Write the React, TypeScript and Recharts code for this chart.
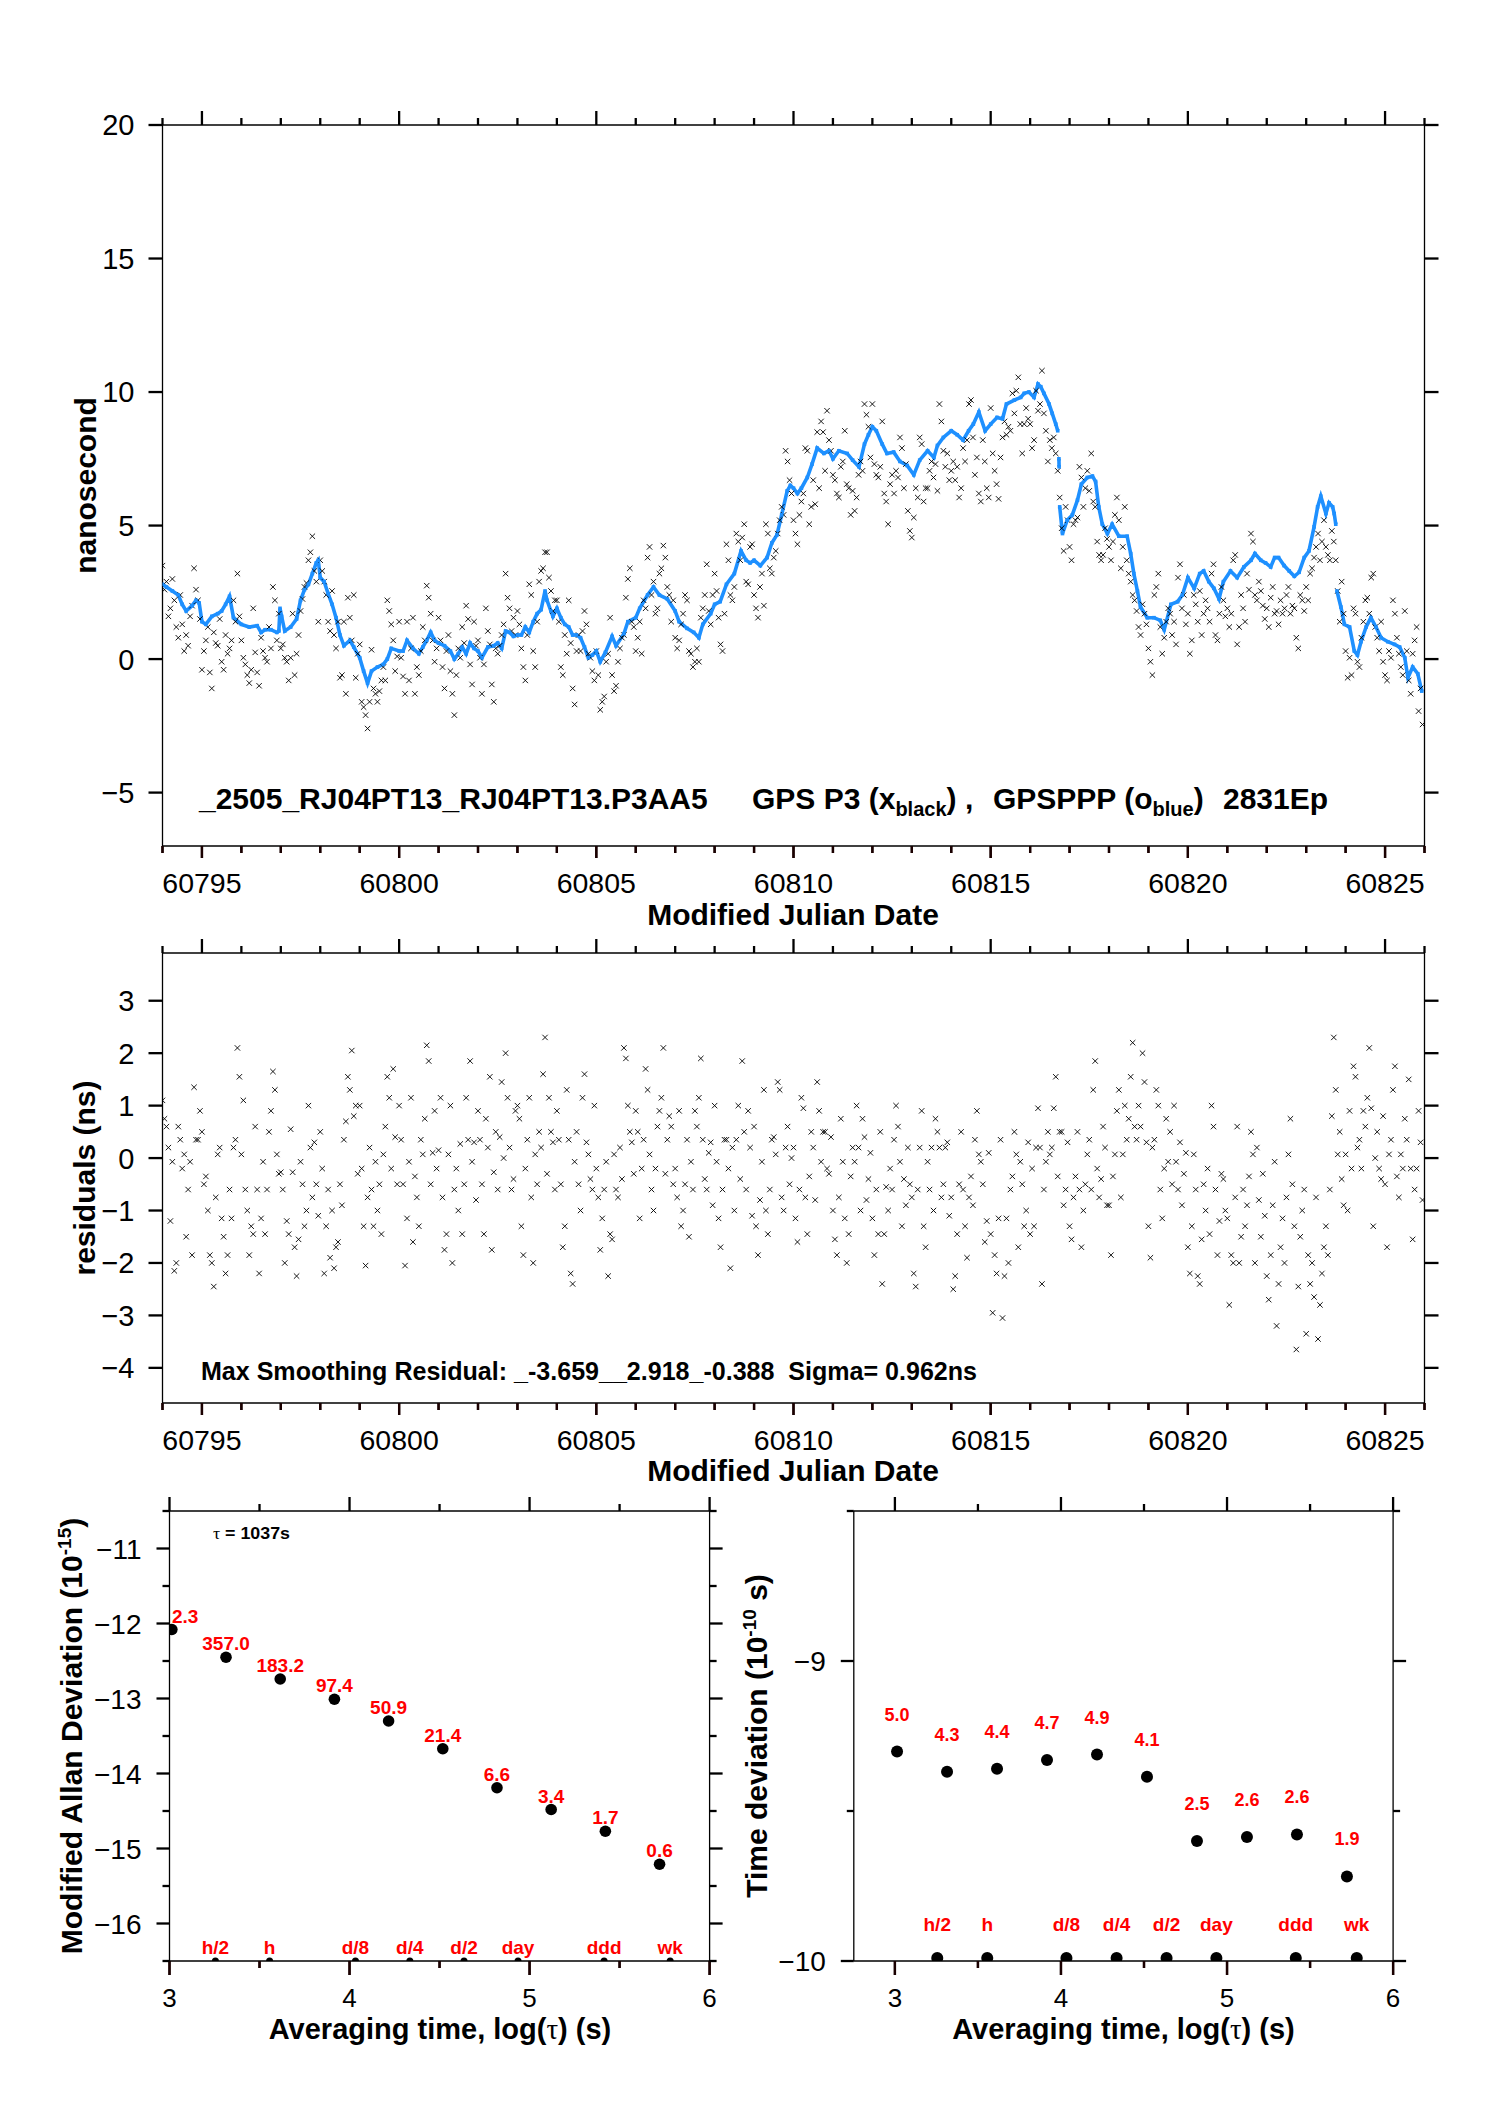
import React from 'react';
import { ComposedChart, Scatter, Line, XAxis, YAxis, ReferenceLine } from 'recharts';

const FONT = '"Liberation Sans", Arial, Helvetica, sans-serif';
const BLUE = '#1E90FF';
const RED = '#FF0000';
const INK = '#1a0000';

// ---------------- Top panel: GPS P3 (black x), epochs every 0.1 d, two interleaved sets ----------------
const EPOCH0 = 60794.0;
const STEP = 0.1;
const p3A: number[] = [
  3.5, 2.9, 1.9, 2.2, 0.8, 1.3, 0.9, 1.6, 3.4, 2.2,
  -0.4, 0.7, -0.5, 1.0, 0.5, -0.1, 0.9, 0.4, 2.2, 3.2,
  0.7, -0.2, -0.9, 1.9, -0.5, 0.8, 0.05, 1.2, 2.7, 0.7,
  0.4, 0.05, -0.8, 1.7, 0.2, 1.8, 2.7, 3.7, 4.6, 2.9,
  3.7, 2.9, 1.4, 2.55, 0.4, -0.7, 1.4, 2.3, 0.7, -0.7,
  0.55, -1.8, -2.6, 0.35, -1.3, -1.2, -0.3, 2.2, 1.3, -0.45,
  1.4, -0.65, 1.4, 0.4, -1.3, -0.6, 1.2, 2.75, 1.7, -0.1,
  1.55, -0.3, 0.3, -0.45, -2.1, 0.4, 1.2, 2.0, -0.2, 1.4,
  0.7, -1.3, 1.9, 0.55, -1.6, 0.2, 0.9, 3.2, 1.9, 1.55,
  1.8, 0.4, -0.8, 2.8, 0.3, 1.4, 3.3, 4.0, 3.05, 1.8,
  2.2, -0.3, 0.9, 2.2, -1.1, 0.3, 0.3, 1.8, 0.2, -0.45,
  0.3, -1.9, -1.4, 0.2, -0.6, -1.0, 0.4, 0.9, 3.0, 1.4,
  0.3, 1.4, 2.2, 3.8, 2.4, 1.7, 3.2, 4.25, 2.7, 1.4,
  0.8, 0.7, 1.7, 2.2, 0.2, -0.1, -0.1, 1.9, 3.55, 1.3,
  3.2, 1.55, 0.3, 4.3, 2.4, 2.7, 4.4, 4.55, 2.9, 4.2,
  2.4, 1.55, 3.2, 5.05, 3.4, 3.8, 4.7, 5.7, 7.8, 6.7,
  5.2, 4.3, 5.9, 7.9, 5.05, 6.7, 8.5, 8.9, 7.05, 8.2,
  6.9, 6.2, 7.2, 8.55, 6.4, 6.3, 6.05, 7.4, 9.55, 8.7,
  9.55, 6.9, 7.2, 6.2, 5.05, 6.9, 7.05, 8.3, 6.4, 5.55,
  4.55, 6.4, 8.3, 5.9, 6.4, 7.4, 7.3, 9.55, 7.8, 7.7,
  7.05, 6.7, 6.05, 7.9, 8.2, 9.7, 6.9, 6.2, 8.2, 6.4,
  9.4, 7.05, 6.0, 8.3, 8.4, 8.55, 9.2, 10.55, 7.7, 9.4,
  8.8, 8.2, 9.3, 10.8, 8.55, 8.2, 8.3, 7.05, 4.9, 5.7,
  4.2, 5.05, 5.3, 6.8, 6.4, 6.3, 5.9, 4.4, 3.7, 4.9,
  4.2, 4.4, 6.05, 3.4, 5.7, 3.2, 2.4, 1.8, 0.9, 1.7,
  0.4, -0.6, 2.7, 1.2, 0.8, 1.9, 0.9, 0.55, 3.55, 2.4,
  1.7, 0.7, 2.05, 2.55, 1.7, 1.9, 3.2, 0.9, 1.7, 2.2,
  1.9, 1.7, 3.9, 1.2, 1.9, 3.2, 4.7, 2.4, 2.9, 2.0,
  1.9, 2.3, 1.7, 1.3, 1.7, 2.4, 1.7, 1.9, 0.4, 2.2,
  2.7, 3.2, 3.8, 4.7, 4.4, 4.2, 3.7, 4.4, 2.55, 2.9,
  0.3, 0.05, 1.9, -0.1, 0.8, 2.2, 1.7, 3.2, 0.8, 1.4,
  -0.6, 0.3, 2.2, 0.8, -0.3, 1.8, -0.8, 0.2, 1.2, -1.1,
];
const p3B: number[] = [
  2.6, 1.6, 3.0, 1.2, 2.4, 0.3, 0.5, 2.0, 2.6, 1.5,
  0.3, 1.2, -1.1, 0.6, 1.5, -0.4, 0.2, 0.7, 1.4, 1.6,
  0.05, -0.6, -0.4, 0.25, -1.0, 0.3, -0.1, 0.4, 2.2, 1.7,
  0.55, -0.1, 0.05, -0.6, 0.9, 2.25, 2.85, 4.0, 3.3, 1.4,
  3.3, 2.4, 1.05, 0.9, 1.4, -0.6, -1.3, 1.55, 2.4, 0.2,
  -1.6, -2.1, -1.6, -1.1, -1.6, -0.8, -0.8, 1.8, 0.7, 0.1,
  0.05, -1.3, -0.8, 1.55, -0.3, 0.3, 0.7, 2.3, 0.7, 0.4,
  0.7, -1.1, 0.9, -1.3, -0.6, 0.05, 0.6, 1.5, -0.95, 0.5,
  0.05, -0.2, 1.05, -0.95, 0.4, 0.5, 1.3, 2.3, 1.05, 0.9,
  1.3, -0.3, 0.9, 2.4, -0.3, 2.9, 3.4, 4.0, 2.55, 2.2,
  1.4, -0.6, 0.2, 0.6, -1.7, 0.9, 1.05, 1.3, 0.05, -0.8,
  -0.6, -1.6, -0.1, 1.55, -1.2, -0.1, 0.8, 2.3, 3.4, 1.2,
  0.8, 0.2, 1.9, 4.2, 2.9, 1.9, 3.4, 3.8, 2.4, 2.2,
  0.4, 1.3, 2.4, 0.3, -0.3, 0.4, 1.55, 2.4, 1.8, 2.4,
  2.55, 0.55, 1.7, 3.7, 2.2, 4.7, 3.7, 5.05, 2.8, 4.3,
  1.9, 2.7, 2.0, 4.7, 3.2, 4.05, 5.2, 5.4, 7.4, 6.2,
  4.7, 5.4, 6.2, 7.8, 5.7, 5.8, 6.4, 8.5, 9.3, 7.8,
  6.7, 6.05, 7.4, 6.55, 5.4, 5.55, 6.9, 7.05, 9.15, 7.55,
  7.3, 6.8, 8.9, 5.9, 6.55, 6.2, 6.8, 7.9, 7.3, 4.8,
  5.3, 6.05, 8.05, 6.4, 7.05, 6.8, 6.3, 8.9, 7.2, 6.7,
  7.4, 7.2, 6.4, 7.4, 9.55, 8.3, 7.55, 5.9, 7.4, 6.05,
  7.7, 6.55, 7.55, 8.9, 8.7, 9.95, 10.05, 8.8, 8.8, 9.0,
  7.9, 10.05, 9.55, 9.2, 7.4, 7.9, 7.7, 6.05, 4.05, 5.2,
  3.7, 5.2, 7.2, 5.7, 7.05, 7.7, 5.7, 3.9, 3.9, 4.5,
  3.7, 5.4, 5.2, 4.2, 3.7, 2.9, 2.2, 1.2, 2.05, 1.3,
  -0.1, 2.4, 3.2, 0.2, 1.4, 1.7, 1.4, 3.05, 1.9, 1.3,
  0.2, 2.4, 1.4, 0.9, 2.2, 1.4, 3.55, 0.7, 2.7, 1.6,
  1.2, 3.7, 0.55, 2.4, 1.4, 2.6, 4.4, 2.2, 2.55, 1.5,
  1.2, 2.7, 1.8, 2.2, 1.9, 2.7, 2.0, 0.8, 2.4, 1.8,
  2.2, 3.4, 4.2, 3.7, 5.2, 3.9, 4.8, 3.7, 1.4, 1.7,
  -0.7, -0.6, 1.7, -0.3, 1.4, 2.3, 3.05, 1.2, 0.3, -0.1,
  -0.8, 0.05, 1.7, 0.2, -0.6, 0.3, -1.3, 0.7, -1.95, -2.45,
];

// GPSPPP (blue) : [MJD, ns]; null breaks the trace
const pppTrace: [number, number | null][] = [
  [60794.0, 2.8], [60794.1, 2.7], [60794.25, 2.55], [60794.4, 2.4], [60794.5, 2.05], [60794.6, 1.8],
  [60794.75, 2.0], [60794.85, 2.2], [60794.93, 2.1], [60795.0, 1.4], [60795.1, 1.3], [60795.25, 1.6],
  [60795.4, 1.7], [60795.5, 1.8], [60795.6, 2.05], [60795.7, 2.35], [60795.8, 1.55], [60796.0, 1.3],
  [60796.2, 1.2], [60796.4, 1.25], [60796.5, 1.0], [60796.6, 1.1], [60796.75, 1.1], [60796.9, 1.0],
  [60796.95, 1.05], [60796.98, 1.9], [60797.02, 1.6], [60797.1, 1.05], [60797.25, 1.2], [60797.4, 1.5],
  [60797.5, 2.2], [60797.6, 2.6], [60797.7, 2.8], [60797.8, 3.2], [60797.9, 3.6], [60797.95, 3.7],
  [60798.0, 3.05], [60798.1, 2.9], [60798.2, 2.45], [60798.3, 2.05], [60798.4, 1.55], [60798.5, 0.9],
  [60798.6, 0.5], [60798.75, 0.7], [60798.85, 0.45], [60799.0, 0.05], [60799.1, -0.45], [60799.2, -0.9],
  [60799.3, -0.45], [60799.45, -0.3], [60799.6, -0.2], [60799.7, 0.0], [60799.8, 0.4], [60800.0, 0.3],
  [60800.1, 0.3], [60800.2, 0.7], [60800.35, 0.4], [60800.5, 0.2], [60800.6, 0.45], [60800.7, 0.7],
  [60800.8, 1.0], [60800.9, 0.7], [60801.0, 0.6], [60801.15, 0.5], [60801.3, 0.3], [60801.4, 0.0],
  [60801.5, 0.2], [60801.6, 0.45], [60801.7, 0.2], [60801.8, 0.6], [60801.9, 0.4], [60802.0, 0.3],
  [60802.1, 0.05], [60802.25, 0.45], [60802.4, 0.5], [60802.5, 0.6], [60802.6, 0.4], [60802.7, 1.05],
  [60802.8, 1.0], [60802.9, 0.85], [60803.0, 0.9], [60803.1, 0.9], [60803.2, 1.2], [60803.3, 1.0],
  [60803.4, 1.4], [60803.5, 1.7], [60803.6, 1.85], [60803.7, 2.55], [60803.75, 2.2], [60803.85, 1.8],
  [60803.9, 1.6], [60804.0, 1.9], [60804.1, 1.55], [60804.2, 1.3], [60804.3, 1.2], [60804.4, 0.9],
  [60804.5, 0.9], [60804.6, 0.8], [60804.7, 0.45], [60804.8, 0.05], [60804.9, 0.15], [60805.0, 0.3],
  [60805.1, -0.1], [60805.23, 0.25], [60805.4, 0.85], [60805.5, 0.5], [60805.7, 0.95], [60805.8, 1.4],
  [60806.0, 1.55], [60806.1, 1.9], [60806.3, 2.4], [60806.45, 2.7], [60806.6, 2.4], [60806.8, 2.25],
  [60807.0, 1.8], [60807.1, 1.4], [60807.3, 1.15], [60807.47, 1.0], [60807.6, 0.8], [60807.7, 1.3],
  [60807.9, 1.7], [60808.0, 2.05], [60808.14, 2.15], [60808.3, 2.8], [60808.5, 3.2], [60808.67, 4.05],
  [60808.8, 3.7], [60808.9, 3.6], [60809.0, 3.7], [60809.16, 3.5], [60809.33, 3.8], [60809.45, 4.35],
  [60809.58, 4.65], [60809.7, 5.4], [60809.84, 6.3], [60809.92, 6.5], [60810.0, 6.4], [60810.1, 6.2],
  [60810.2, 6.4], [60810.35, 6.8], [60810.47, 7.3], [60810.6, 7.9], [60810.77, 7.7], [60810.9, 7.8],
  [60811.0, 7.5], [60811.15, 7.8], [60811.36, 7.7], [60811.5, 7.45], [60811.66, 7.2], [60811.8, 8.05],
  [60811.9, 8.4], [60812.0, 8.7], [60812.1, 8.55], [60812.25, 8.05], [60812.37, 7.7], [60812.54, 7.75],
  [60812.7, 7.4], [60812.88, 7.25], [60813.05, 6.9], [60813.2, 7.45], [60813.4, 7.8], [60813.56, 7.55],
  [60813.65, 8.0], [60813.8, 8.3], [60814.0, 8.55], [60814.15, 8.4], [60814.3, 8.2], [60814.44, 8.55],
  [60814.56, 8.8], [60814.7, 9.25], [60814.86, 8.55], [60815.0, 8.8], [60815.16, 9.05], [60815.3, 9.0],
  [60815.4, 9.55], [60815.6, 9.7], [60815.76, 9.8], [60815.85, 9.95], [60815.97, 10.0], [60816.1, 9.8],
  [60816.2, 10.3], [60816.27, 10.2], [60816.35, 9.95], [60816.48, 9.55], [60816.56, 9.2], [60816.65, 8.8],
  [60816.7, 8.55], [60816.71, null], [60816.73, 7.5], [60816.735, 7.2], [60816.74, null], [60816.75, 5.7],
  [60816.82, 4.7], [60816.94, 5.2], [60817.07, 5.4], [60817.2, 5.95], [60817.3, 6.55], [60817.45, 6.8],
  [60817.58, 6.85], [60817.66, 6.65], [60817.74, 5.7], [60817.83, 5.05], [60817.96, 4.7], [60818.08, 5.05],
  [60818.25, 4.6], [60818.46, 4.6], [60818.55, 3.95], [60818.63, 3.2], [60818.72, 2.55], [60818.8, 1.95],
  [60818.97, 1.55], [60819.14, 1.55], [60819.3, 1.45], [60819.4, 1.1], [60819.57, 2.05], [60819.74, 2.15],
  [60819.86, 2.4], [60820.0, 3.05], [60820.16, 2.65], [60820.3, 3.2], [60820.4, 3.3], [60820.53, 2.9],
  [60820.66, 2.65], [60820.79, 2.25], [60820.9, 2.9], [60821.08, 3.3], [60821.25, 3.05], [60821.42, 3.45],
  [60821.6, 3.7], [60821.7, 3.95], [60821.85, 3.7], [60821.97, 3.6], [60822.1, 3.45], [60822.2, 3.8],
  [60822.3, 3.8], [60822.44, 3.5], [60822.57, 3.3], [60822.7, 3.1], [60822.82, 3.25], [60822.95, 3.8],
  [60823.07, 4.05], [60823.2, 4.95], [60823.29, 5.7], [60823.37, 6.1], [60823.5, 5.45], [60823.58, 5.85],
  [60823.67, 5.7], [60823.71, 5.45], [60823.75, 5.05], [60823.765, null], [60823.78, 2.55], [60823.88, 1.95],
  [60823.97, 1.3], [60824.1, 1.2], [60824.22, 0.3], [60824.3, 0.15], [60824.39, 0.65], [60824.52, 1.2],
  [60824.64, 1.55], [60824.77, 1.2], [60824.9, 0.8], [60825.07, 0.65], [60825.24, 0.55], [60825.37, 0.45],
  [60825.5, 0.05], [60825.58, -0.7], [60825.7, -0.3], [60825.83, -0.55], [60825.93, -1.2],
];

// ---------------- Residuals (ns), same epoch grid ----------------
const resA: number[] = [
  1.1, 0.6, -1.2, -2.15, 0.6, -0.2, -1.5, -0.07, 1.35, 0.35,
  0.5, -0.35, -1.85, -2.45, 0.07, -1.15, -2.2, -0.6, 0.2, 2.1,
  0.07, -0.6, -1.85, -1.45, -0.6, -1.15, -1.45, 0.5, 1.65, 0.07,
  -0.27, -2.0, -1.45, -0.27, -2.25, -0.07, -1.3, 1.0, -0.75, -0.5,
  0.5, -2.2, -0.6, -1.0, -1.7, -0.5, 0.35, 1.55, 2.05, 1.0,
  1.0, -1.3, -0.75, -0.6, -0.07, -0.5, 0.07, 1.55, -0.2, 0.4,
  1.0, -0.5, -1.15, 1.15, -0.35, -1.3, 0.07, 2.15, -0.5, 0.9,
  0.15, -0.75, -1.45, 1.0, -0.6, -1.0, -1.45, 1.15, 1.85, 0.3,
  0.9, -0.5, 0.75, 1.55, -0.27, -0.6, 1.45, 2.0, 0.2, -0.4,
  1.0, -1.3, -0.2, 1.15, -2.0, -0.5, 0.2, 2.3, 1.15, 0.3,
  0.9, -0.5, -1.3, 0.35, -2.4, 0.5, -1.0, 1.6, 0.07, -0.6,
  -0.2, -1.75, -0.6, -2.25, -1.55, -0.6, 0.2, 2.1, 1.0, 0.3,
  0.9, -1.15, 0.35, 1.3, -0.6, -0.2, 0.9, 2.1, 0.35, 0.6,
  -0.2, 0.9, -1.0, 0.35, -0.07, 0.9, 1.15, 0.35, -0.6, 0.3,
  1.0, -1.15, -0.6, 0.35, -2.1, -1.0, 1.0, 1.85, -0.6, 0.2,
  0.6, -1.85, -0.07, -1.0, -0.6, 0.4, 1.45, -0.75, 0.2, -0.5,
  0.2, -1.6, 1.15, -0.75, -0.35, 0.2, 1.45, -0.07, 0.5, -0.3,
  -1.0, -1.85, 0.75, -1.15, -1.45, 0.2, 1.0, -1.0, 0.4, -0.4,
  -1.15, -0.6, 0.5, -1.45, -1.0, -0.6, 1.0, -0.07, -0.4, 0.2,
  -0.75, -2.45, 0.2, -1.3, -0.07, 0.2, 0.75, 0.2, -0.5, 0.3,
  -0.75, -2.25, -0.5, -0.6, -1.9, -0.35, 0.35, 0.07, -0.5, -1.2,
  -1.45, -1.85, -1.15, -3.05, -1.15, -0.6, 0.5, -1.7, -0.5, -1.0,
  -1.45, -1.3, 0.95, -2.4, -0.07, 0.07, 0.95, -0.35, 0.5, -0.6,
  -1.3, -0.75, 0.5, -1.7, -0.5, 0.35, 1.3, -0.2, -0.4, 0.2,
  -0.9, -0.35, 0.9, -0.75, 1.0, 0.75, 2.2, 0.35, 0.6, 1.45,
  -1.3, 0.2, 1.3, -0.6, -0.2, -0.07, -0.5, -0.07, 0.3, -0.3,
  -1.7, -1.3, -0.6, -2.4, -0.5, -0.2, 1.0, -0.6, -1.2, -0.4,
  -1.15, -1.85, -0.75, -2.0, -0.6, -0.9, 0.5, -2.0, -0.8, -0.3,
  -2.25, -1.85, -0.07, -2.4, -1.15, -0.75, 0.75, -1.3, -2.45, -1.0,
  -3.35, -2.4, -2.65, -3.45, -2.2, -1.3, -0.6, 2.3, 0.07, -0.4,
  0.07, 0.9, 1.75, 0.2, -0.2, 0.6, 2.1, -1.3, 0.5, -0.4,
  -0.5, 0.07, 1.3, -0.35, 0.07, 0.75, 1.5, -1.55, -0.2, 0.3,
];
const resB: number[] = [
  0.75, 0.2, -0.07, -2.0, 0.35, 0.07, -0.6, -1.85, 0.35, 0.9,
  -0.5, -1.0, -2.0, -0.75, 0.2, -1.5, -1.85, -1.15, 0.35, 1.55,
  1.1, -1.0, -1.3, 0.6, -2.2, -0.07, -0.6, 0.9, 1.3, -0.3,
  -0.6, -1.2, 0.55, -1.7, -1.55, -0.5, -1.0, 0.2, 0.3, -1.1,
  -0.2, -1.3, -1.9, -2.1, -1.6, -0.9, 0.7, 1.3, 0.8, -0.3,
  -0.2, -2.05, 0.2, -1.3, -1.0, -1.45, 0.6, 1.15, 1.7, -0.5,
  0.35, -2.05, -0.07, -1.6, -0.75, 0.35, 0.75, 1.85, 0.1, -0.2,
  1.15, -1.75, 0.07, -2.0, -0.2, 0.27, -0.5, 0.35, -0.07, -0.8,
  0.35, -1.45, 0.2, -1.75, 0.5, 0.4, 0.0, 1.15, -0.6, 0.9,
  0.75, -1.85, 0.35, -0.75, 0.07, 0.5, 1.6, -0.3, 0.5, -0.6,
  0.35, -1.7, 1.3, -2.2, -0.07, -0.5, 1.15, 0.3, -0.4, 1.0,
  -0.75, -1.15, -0.07, -1.45, 0.07, -0.75, -0.4, 1.9, 0.5, -0.3,
  0.5, -0.2, 1.7, 0.07, -1.0, 0.6, 1.15, -0.3, 0.8, -0.5,
  -0.75, -1.3, -0.5, -1.5, -0.6, 0.6, 1.9, -0.4, 0.1, -0.9,
  -0.07, -1.7, 0.35, -0.2, 0.2, 0.35, -0.4, 0.5, 0.9, -1.1,
  -1.3, -0.8, 1.3, -1.45, 0.35, 0.07, 1.3, -1.0, 0.6, 0.0,
  -1.15, -0.6, 0.95, -1.45, 0.5, -0.8, 0.9, 0.5, -0.2, 0.4,
  -1.55, -0.75, -0.07, -2.0, -0.35, -0.07, 0.2, 0.75, -0.8, 0.1,
  -1.85, -1.45, -2.4, -0.55, -0.2, 0.35, 0.6, -1.3, -0.9, -0.5,
  -2.2, -0.6, 0.9, -1.7, -0.6, -1.0, 0.5, -0.75, 0.2, -1.1,
  -2.5, -1.45, 0.5, -1.3, -0.75, -0.9, 0.9, -0.07, -1.6, 0.1,
  -2.95, -2.2, 0.35, -2.25, -2.0, -0.35, 0.07, -0.07, -1.3, 0.3,
  -0.2, 0.2, 0.2, -0.6, 0.5, 0.2, 1.55, 0.5, -0.9, 0.3,
  -1.55, -0.35, -0.6, -1.0, 0.07, -0.6, 1.85, -0.75, 0.6, -0.9,
  -1.85, 0.07, 1.3, 0.07, 0.35, 1.55, 0.6, 1.0, 2.0, 0.3,
  -1.9, 0.35, 1.0, -1.15, 0.75, 0.5, 1.0, -0.6, -0.9, 0.1,
  -2.2, 0.07, -2.25, -1.55, -1.0, -1.45, 0.6, -1.85, -0.3, -1.0,
  -2.8, -2.0, 0.6, -1.5, -1.3, -0.35, 0.07, 0.2, -1.5, -1.1,
  -2.7, -0.9, -3.2, -1.7, -2.0, 0.07, -0.5, -3.65, -1.5, -0.6,
  -1.85, -2.0, -0.75, -2.8, -1.7, -1.85, 0.8, 1.3, 0.5, -0.9,
  -1.0, -0.2, 1.55, 0.35, 0.9, 1.15, 0.95, 0.0, -0.2, 0.8,
  -1.7, 0.35, 1.75, -0.75, -0.2, 0.35, -0.2, -0.6, 0.9, -0.8,
];

// ---------------- Stability panels ----------------
const logTau: number[] = [3.013, 3.314, 3.615, 3.916, 4.217, 4.518, 4.819, 5.12, 5.421, 5.722];
const mdevLog: number[] = [-12.08, -12.45, -12.74, -13.01, -13.3, -13.67, -14.19, -14.48, -14.77, -15.21];
const mdevLabels: string[] = ['2.3', '357.0', '183.2', '97.4', '50.9', '21.4', '6.6', '3.4', '1.7', '0.6'];
const tdevLog: number[] = [-9.302, -9.369, -9.359, -9.33, -9.312, -9.386, -9.6, -9.587, -9.578, -9.718];
const tdevLabels: string[] = ['5.0', '4.3', '4.4', '4.7', '4.9', '4.1', '2.5', '2.6', '2.6', '1.9'];
const markLog: number[] = [3.255, 3.556, 4.033, 4.335, 4.636, 4.936, 5.414, 5.781];
const markNames: string[] = ['h/2', 'h', 'd/8', 'd/4', 'd/2', 'day', 'ddd', 'wk'];

// tick lists
const dayTicks: number[] = Array.from({ length: 33 }, (_, i) => 60794 + i);
const nsTicks: number[] = [-5, 0, 5, 10, 15, 20];
const resTicks: number[] = [-4, -3, -2, -1, 0, 1, 2, 3];
const tauTicks: number[] = [3, 3.5, 4, 4.5, 5, 5.5, 6];
const mdevTicks: number[] = [-16.5, -16, -15.5, -15, -14.5, -14, -13.5, -13, -12.5, -12, -11.5, -11, -10.5];
const tdevTicks: number[] = [-10, -9.5, -9, -8.5];

// ---------------- derived series ----------------
const p3Pts = [
  ...p3A.map((v, i) => ({ x: EPOCH0 + i * STEP, y: v })),
  ...p3B.map((v, i) => ({ x: EPOCH0 + STEP / 2 + i * STEP, y: v })),
];
const resPts = [
  ...resA.map((v, i) => ({ x: EPOCH0 + i * STEP, y: v })),
  ...resB.map((v, i) => ({ x: EPOCH0 + STEP / 2 + i * STEP, y: v })),
];
const pppLine = pppTrace.map(([x, y]) => ({ x, y }));
const pppDots = pppTrace.filter(([, y]) => y !== null).map(([x, y]) => ({ x, y }));
const mdevPts = logTau.map((x, i) => ({ x, y: mdevLog[i], label: mdevLabels[i] }));
const tdevPts = logTau.map((x, i) => ({ x, y: tdevLog[i], label: tdevLabels[i] }));
const mdevMarks = markLog.map((x, i) => ({ x, y: -16.5, label: markNames[i] }));
const tdevMarks = markLog.map((x, i) => ({ x, y: -10, label: markNames[i] }));

const fmt = (v: number) => (v < 0 ? '\u2212' + Math.abs(v) : String(v));
const isInt = (v: number) => Math.abs(v - Math.round(v)) < 1e-9;
const isFive = (v: number) => isInt(v) && Math.round(v) % 5 === 0;

const TW = 2.3; // tick thickness
const AW = 1.3; // axis line stroke

type TickOpts = {
  side: 'bottom' | 'top' | 'left' | 'right';
  isMajor: (v: number) => boolean;
  maj: number;
  min: number;
  labels?: boolean;
  fs?: number;
  off?: number;
};
function makeTick(o: TickOpts) {
  return (props: any) => {
    const x = Number(props.x);
    const y = Number(props.y);
    const v = Number(props.payload.value);
    const major = o.isMajor(v);
    const len = major ? o.maj : o.min;
    let mark: any = null;
    if (o.side === 'left') mark = <rect x={x - len} y={y - TW / 2} width={len} height={TW} fill="#000" />;
    if (o.side === 'right') mark = <rect x={x} y={y - TW / 2} width={len} height={TW} fill="#000" />;
    if (o.side === 'bottom') mark = <rect x={x - TW / 2} y={y} width={TW} height={len} fill={INK} />;
    let text: any = null;
    if (major && o.labels) {
      const fs = o.fs || 28;
      if (o.side === 'bottom')
        text = (
          <text x={x} y={y + (o.off || 46)} textAnchor="middle" fontSize={fs} fontFamily={FONT} fill="#000" stroke="none">
            {fmt(v)}
          </text>
        );
      if (o.side === 'left')
        text = (
          <text x={x - (o.off || 28)} y={y + fs * 0.36} textAnchor="end" fontSize={fs} fontFamily={FONT} fill="#000" stroke="none">
            {fmt(v)}
          </text>
        );
    }
    return (
      <g>
        {mark}
        {text}
      </g>
    );
  };
}

// x-axis tick marks (outside the plot, top and bottom) drawn through the chart scales
function xTickMarks(
  ticks: number[],
  isMajor: (v: number) => boolean,
  yDomain: [number, number],
  perPx: number,
  bot: [number, number],
  top: [number, number],
) {
  const out: any[] = [];
  ticks.forEach((v) => {
    const m = isMajor(v);
    out.push(
      <ReferenceLine
        key={'b' + v}
        xAxisId="b"
        yAxisId="l"
        segment={[
          { x: v, y: yDomain[0] - (m ? bot[0] : bot[1]) * perPx },
          { x: v, y: yDomain[0] },
        ]}
        stroke={INK}
        strokeWidth={TW}
        ifOverflow="visible"
      />,
    );
    out.push(
      <ReferenceLine
        key={'t' + v}
        xAxisId="b"
        yAxisId="l"
        segment={[
          { x: v, y: yDomain[1] },
          { x: v, y: yDomain[1] + (m ? top[0] : top[1]) * perPx },
        ]}
        stroke="#000"
        strokeWidth={TW}
        ifOverflow="visible"
      />,
    );
  });
  return out;
}

const xMark = (p: any) => {
  const { cx, cy } = p;
  const s = 2.7;
  return (
    <path
      d={`M${cx - s},${cy - s}L${cx + s},${cy + s}M${cx - s},${cy + s}L${cx + s},${cy - s}`}
      stroke="#000"
      strokeWidth={0.9}
      fill="none"
    />
  );
};
const blueDot = (p: any) => <rect x={p.cx - 1.8} y={p.cy - 1.8} width={3.6} height={3.6} fill={BLUE} />;

const axisLine = { stroke: '#000', strokeWidth: AW };

const MD_LEFT = 169.5;
const mdevDot = (p: any) => {
  const { cx, cy, payload } = p;
  const lbl: string = payload.label;
  const w = lbl.length * 0.55 * 19;
  let tx = cx;
  if (cx - w / 2 < MD_LEFT) tx = MD_LEFT + w / 2;
  return (
    <g>
      <circle cx={cx} cy={cy} r={5.8} fill="#000" />
      <text x={tx} y={cy - 7} textAnchor="middle" fontSize={19} fontWeight="bold" fontFamily={FONT} fill={RED}>
        {lbl}
      </text>
    </g>
  );
};
const mdevMark = (p: any) => (
  <g>
    <circle cx={p.cx} cy={p.cy} r={3.5} fill="#000" />
    <text x={p.cx} y={p.cy - 7} textAnchor="middle" fontSize={19} fontWeight="bold" fontFamily={FONT} fill={RED}>
      {p.payload.label}
    </text>
  </g>
);
const tdevDot = (p: any) => (
  <g>
    <circle cx={p.cx} cy={p.cy} r={6} fill="#000" />
    <text x={p.cx} y={p.cy - 31} textAnchor="middle" fontSize={18} fontWeight="bold" fontFamily={FONT} fill={RED}>
      {p.payload.label}
    </text>
  </g>
);
const tdevMark = (p: any) => (
  <g>
    <circle cx={p.cx} cy={p.cy - 3} r={6} fill="#000" />
    <text x={p.cx} y={p.cy - 30} textAnchor="middle" fontSize={19} fontWeight="bold" fontFamily={FONT} fill={RED}>
      {p.payload.label}
    </text>
  </g>
);

const axisCommon = {
  type: 'number' as const,
  allowDataOverflow: true,
  interval: 0 as const,
  tickSize: 0,
  tickMargin: 0,
  tickLine: false,
  axisLine,
};

function TimePanel(props: {
  top: number;
  height: number;
  mTop: number;
  mBottom: number;
  yDomain: [number, number];
  yTicks: number[];
  children: any;
}) {
  const { top, height, mTop, mBottom, yDomain, yTicks, children } = props;
  const plotH = height - mTop - 20 - mBottom - 60;
  const perPx = (yDomain[1] - yDomain[0]) / plotH;
  return (
    <div style={{ position: 'absolute', left: 0, top }}>
      <ComposedChart width={1488} height={height} margin={{ top: mTop, right: 43.5, bottom: mBottom, left: 102.5 }}>
        <XAxis
          {...axisCommon}
          xAxisId="b"
          dataKey="x"
          orientation="bottom"
          domain={[60794, 60826]}
          ticks={dayTicks}
          height={60}
          tick={makeTick({ side: 'bottom', isMajor: isFive, maj: 12, min: 7, labels: true, fs: 28.5, off: 46.5 })}
        />
        <XAxis
          {...axisCommon}
          xAxisId="t"
          orientation="top"
          domain={[60794, 60826]}
          ticks={dayTicks}
          height={20}
          tick={false}
        />
        <YAxis
          {...axisCommon}
          yAxisId="l"
          dataKey="y"
          orientation="left"
          domain={yDomain}
          ticks={yTicks}
          width={60}
          tick={makeTick({ side: 'left', isMajor: () => true, maj: 14, min: 14, labels: true, fs: 29, off: 28 })}
        />
        <YAxis
          {...axisCommon}
          yAxisId="r"
          orientation="right"
          domain={yDomain}
          ticks={yTicks}
          width={20}
          tick={makeTick({ side: 'right', isMajor: () => true, maj: 14, min: 14 })}
        />
        {children}
        {xTickMarks(dayTicks, isFive, yDomain, perPx, [12, 7], [14, 7])}
      </ComposedChart>
    </div>
  );
}

function TauPanel(props: {
  left: number;
  mLeft: number;
  mRight: number;
  xDomain: [number, number];
  yDomain: [number, number];
  yTicks: number[];
  children: any;
}) {
  const { left, mLeft, mRight, xDomain, yDomain, yTicks, children } = props;
  const perPx = (yDomain[1] - yDomain[0]) / 450;
  return (
    <div style={{ position: 'absolute', left, top: 1480 }}>
      <ComposedChart width={744} height={600} margin={{ top: 11, right: mRight, bottom: 59, left: mLeft }}>
        <XAxis
          {...axisCommon}
          xAxisId="b"
          dataKey="x"
          orientation="bottom"
          domain={xDomain}
          ticks={tauTicks}
          height={60}
          tick={makeTick({ side: 'bottom', isMajor: isInt, maj: 14, min: 7, labels: true, fs: 26, off: 46 })}
        />
        <XAxis
          {...axisCommon}
          xAxisId="t"
          orientation="top"
          domain={xDomain}
          ticks={tauTicks}
          height={20}
          tick={false}
        />
        <YAxis
          {...axisCommon}
          yAxisId="l"
          dataKey="y"
          orientation="left"
          domain={yDomain}
          ticks={yTicks}
          width={60}
          tick={makeTick({ side: 'left', isMajor: isInt, maj: 13, min: 7, labels: true, fs: 28, off: 28 })}
        />
        <YAxis
          {...axisCommon}
          yAxisId="r"
          orientation="right"
          domain={yDomain}
          ticks={yTicks}
          width={20}
          tick={makeTick({ side: 'right', isMajor: isInt, maj: 13, min: 7 })}
        />
        {children}
        {xTickMarks(tauTicks, isInt, yDomain, perPx, [14, 7], [14, 7])}
      </ComposedChart>
    </div>
  );
}

const T = (p: any) => <text fontFamily={FONT} fill="#000" {...p} />;

export default function App() {
  return (
    <div style={{ position: 'absolute', left: 0, top: 0, width: 1488, height: 2105, background: '#fff', overflow: 'hidden' }}>
      <TimePanel top={0} height={960} mTop={105} mBottom={54} yDomain={[-7, 20]} yTicks={nsTicks}>
        <Scatter xAxisId="b" yAxisId="l" data={p3Pts} shape={xMark} isAnimationActive={false} />
        <Line
          xAxisId="b"
          yAxisId="l"
          data={pppLine}
          dataKey="y"
          type="linear"
          stroke={BLUE}
          strokeWidth={3.6}
          dot={false}
          activeDot={false}
          connectNulls={false}
          isAnimationActive={false}
        />
        <Scatter xAxisId="b" yAxisId="l" data={pppDots} shape={blueDot} isAnimationActive={false} />
      </TimePanel>

      <TimePanel top={900} height={600} mTop={33} mBottom={37} yDomain={[-4.67, 3.91]} yTicks={resTicks}>
        <Scatter xAxisId="b" yAxisId="l" data={resPts} shape={xMark} isAnimationActive={false} />
      </TimePanel>

      <TauPanel left={0} mLeft={109.5} mRight={14.4} xDomain={[3, 6]} yDomain={[-16.5, -10.5]} yTicks={mdevTicks}>
        <Scatter xAxisId="b" yAxisId="l" data={mdevMarks} shape={mdevMark} isAnimationActive={false} />
        <Scatter xAxisId="b" yAxisId="l" data={mdevPts} shape={mdevDot} isAnimationActive={false} />
      </TauPanel>

      <TauPanel left={744} mLeft={49.8} mRight={74.9} xDomain={[2.7525, 6]} yDomain={[-10, -8.5]} yTicks={tdevTicks}>
        <Scatter xAxisId="b" yAxisId="l" data={tdevMarks} shape={tdevMark} isAnimationActive={false} />
        <Scatter xAxisId="b" yAxisId="l" data={tdevPts} shape={tdevDot} isAnimationActive={false} />
      </TauPanel>

      <svg width={1488} height={2105} style={{ position: 'absolute', left: 0, top: 0, pointerEvents: 'none' }}>
        {/* top panel */}
        <T x={96} y={485.5} fontSize={30} fontWeight="bold" textAnchor="middle" transform="rotate(-90 96 485.5)">
          nanosecond
        </T>
        <T x={793} y={925} fontSize={30} fontWeight="bold" textAnchor="middle">
          Modified Julian Date
        </T>
        <T x={199} y={809} fontSize={30} fontWeight="bold">
          _2505_RJ04PT13_RJ04PT13.P3AA5
        </T>
        <T x={752} y={809} fontSize={30} fontWeight="bold">
          GPS P3 (x
          <tspan fontSize={20} dy={7}>
            black
          </tspan>
          <tspan dy={-7}>) ,</tspan>
        </T>
        <T x={993} y={809} fontSize={30} fontWeight="bold">
          GPSPPP (o
          <tspan fontSize={20} dy={7}>
            blue
          </tspan>
          <tspan dy={-7}>)</tspan>
        </T>
        <T x={1223} y={809} fontSize={30} fontWeight="bold">
          2831Ep
        </T>

        {/* residual panel */}
        <T x={95} y={1178} fontSize={30} fontWeight="bold" textAnchor="middle" transform="rotate(-90 95 1178)">
          residuals (ns)
        </T>
        <T x={793} y={1481} fontSize={30} fontWeight="bold" textAnchor="middle">
          Modified Julian Date
        </T>
        <T x={201} y={1380} fontSize={25} fontWeight="bold" textLength={776} lengthAdjust="spacingAndGlyphs">
          Max Smoothing Residual: _-3.659__2.918_-0.388{'\u00a0\u00a0'}Sigma= 0.962ns
        </T>

        {/* MDEV panel */}
        <T x={82} y={1736} fontSize={30} fontWeight="bold" textAnchor="middle" transform="rotate(-90 82 1736)">
          Modified Allan Deviation (10
          <tspan fontSize={19} dy={-11}>
            -15
          </tspan>
          <tspan dy={11}>)</tspan>
        </T>
        <T x={440} y={2039} fontSize={29} fontWeight="bold" textAnchor="middle">
          Averaging time, log(
          <tspan fontFamily='"Liberation Serif", serif' fontWeight="normal">
            τ
          </tspan>
          ) (s)
        </T>
        <T x={213} y={1539} fontSize={16} fontWeight="bold" textLength={77} lengthAdjust="spacingAndGlyphs">
          <tspan fontFamily='"Liberation Serif", serif' fontWeight="normal">
            τ
          </tspan>
          {' = 1037s'}
        </T>

        {/* TDEV panel */}
        <T x={767} y={1736} fontSize={30} fontWeight="bold" textAnchor="middle" transform="rotate(-90 767 1736)">
          Time deviation (10
          <tspan fontSize={19} dy={-11}>
            -10
          </tspan>
          <tspan dy={11}> s)</tspan>
        </T>
        <T x={1123.5} y={2039} fontSize={29} fontWeight="bold" textAnchor="middle">
          Averaging time, log(
          <tspan fontFamily='"Liberation Serif", serif' fontWeight="normal">
            τ
          </tspan>
          ) (s)
        </T>
      </svg>
    </div>
  );
}
